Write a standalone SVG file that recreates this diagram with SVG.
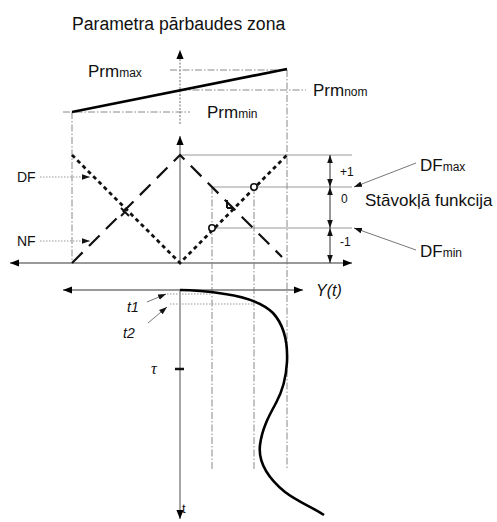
<svg xmlns="http://www.w3.org/2000/svg" width="497" height="522" viewBox="0 0 497 522">
<defs>
<marker id="ah" viewBox="0 0 10 10" refX="10" refY="5" markerWidth="9" markerHeight="9" markerUnits="userSpaceOnUse" orient="auto-start-reverse"><path d="M0,1 L10,5 L0,9 z" fill="#000"/></marker>
<marker id="ahs" viewBox="0 0 10 10" refX="10" refY="5" markerWidth="8" markerHeight="8" markerUnits="userSpaceOnUse" orient="auto-start-reverse"><path d="M0,1.5 L10,5 L0,8.5 z" fill="#111"/></marker>
</defs>
<style>
text{font-family:"Liberation Sans",Arial,sans-serif;fill:#111}
.ax{stroke:#777;stroke-width:1.3;fill:none}
.dd{stroke:#888;stroke-width:1;stroke-dasharray:7 2 1.5 2;fill:none}
.thin{stroke:#999;stroke-width:1;fill:none}
.dot{stroke:#999;stroke-width:1;stroke-dasharray:1.5 1.5;fill:none}
.df{stroke:#111;stroke-width:2.8;stroke-dasharray:4 3.5;fill:none}
.nf{stroke:#111;stroke-width:2.2;stroke-dasharray:15 9;fill:none}
.big{font-size:17px}
.sub{font-size:12px}
.it{font-style:italic}
</style>
<rect width="497" height="522" fill="#fff"/>
<text x="72" y="30" style="font-size:17.6px">Parametra pārbaudes zona</text>

<g id="connectors">
<!-- upper parameter zone -->
<line x1="180" y1="124" x2="180" y2="50" stroke="#888" stroke-width="1.2" stroke-dasharray="2 1.5" marker-end="url(#ah)"/>
<line class="dd" x1="170" y1="70" x2="287" y2="70"/>
<line class="dd" x1="180" y1="90" x2="306" y2="90"/>
<line class="dd" x1="63" y1="112" x2="190" y2="112"/>
<line class="dd" x1="72" y1="112" x2="72" y2="263"/>
<line class="dd" x1="287" y1="70" x2="287" y2="470"/>
<line x1="72" y1="112" x2="287" y2="69" stroke="#000" stroke-width="2.6"/>

<!-- middle state function -->
<line class="ax" x1="180" y1="263" x2="180" y2="136" marker-end="url(#ah)"/>
<line class="ax" x1="10" y1="263" x2="352" y2="263" marker-start="url(#ah)" marker-end="url(#ah)"/>
<line class="thin" x1="180" y1="155" x2="352" y2="155"/>
<line class="thin" x1="212" y1="187" x2="352" y2="187"/>
<line class="thin" x1="212" y1="228" x2="352" y2="228"/>
<line class="dd" x1="212" y1="187" x2="212" y2="470"/>
<line class="dd" x1="254" y1="187" x2="254" y2="470"/>
<polyline class="df" points="72,155 180,263 287,155"/>
<polyline class="nf" points="72,263 180,155 282,257"/>
<line x1="121" y1="208" x2="129" y2="216" stroke="#111" stroke-width="2"/>
<line x1="125" y1="212" x2="121" y2="216" stroke="#111" stroke-width="2"/>
<line x1="227" y1="200" x2="227" y2="208" stroke="#111" stroke-width="2"/>
<line x1="227" y1="208" x2="233" y2="208" stroke="#111" stroke-width="2"/>
<circle cx="212" cy="228" r="3.2" fill="#fff" stroke="#111" stroke-width="1.6"/>
<circle cx="254" cy="187" r="3.2" fill="#fff" stroke="#111" stroke-width="1.6"/>
<line class="dot" x1="40" y1="177" x2="90" y2="177" marker-end="url(#ahs)"/>
<line class="dot" x1="40" y1="241" x2="90" y2="241" marker-end="url(#ahs)"/>
<line x1="330" y1="155" x2="330" y2="187" stroke="#333" stroke-width="1" marker-start="url(#ahs)" marker-end="url(#ahs)"/>
<line x1="330" y1="187" x2="330" y2="228" stroke="#333" stroke-width="1" marker-start="url(#ahs)" marker-end="url(#ahs)"/>
<line x1="330" y1="228" x2="330" y2="263" stroke="#333" stroke-width="1" marker-start="url(#ahs)" marker-end="url(#ahs)"/>
<line x1="416" y1="163" x2="354" y2="187" stroke="#777" stroke-width="1" marker-end="url(#ahs)"/>
<line x1="416" y1="250" x2="354" y2="228" stroke="#777" stroke-width="1" marker-end="url(#ahs)"/>

<!-- lower time section -->
<line class="ax" x1="63" y1="290" x2="303" y2="290" marker-start="url(#ah)" marker-end="url(#ah)"/>
<line class="ax" x1="180" y1="290" x2="180" y2="519" marker-end="url(#ah)"/>
<line class="dot" x1="167" y1="294" x2="212" y2="294"/>
<line class="dot" x1="170" y1="304" x2="254" y2="304"/>
<line x1="147" y1="302" x2="166" y2="294" stroke="#777" stroke-width="1" marker-end="url(#ahs)"/>
<line x1="148" y1="323" x2="167" y2="307" stroke="#777" stroke-width="1" marker-end="url(#ahs)"/>
<line x1="175" y1="369" x2="184" y2="369" stroke="#111" stroke-width="2.5"/>
<path d="M180,290 C200,290 212,292 225,294 C245,297 262,302 273,313 C284,325 288,340 287,362 C286,380 282,392 276,403 C270,414 262,428 260,445 C258,462 268,478 285,492 C298,502 312,507 324,515" stroke="#000" stroke-width="2.6" fill="none"/>
</g>

<g id="prm-max"><text x="88" y="77"><tspan class="big">Prm</tspan><tspan class="sub">max</tspan></text></g>
<g id="prm-nom"><text x="313" y="96"><tspan class="big">Prm</tspan><tspan class="sub">nom</tspan></text></g>
<g id="prm-min"><text x="207" y="118"><tspan class="big">Prm</tspan><tspan class="sub">min</tspan></text></g>
<g id="df-label"><text x="17" y="182" style="font-size:14px">DF</text></g>
<g id="nf-label"><text x="17" y="246" style="font-size:14px">NF</text></g>
<g id="levels">
<text x="340" y="176" style="font-size:12px">+1</text>
<text x="341" y="203" style="font-size:12px">0</text>
<text x="340" y="246" style="font-size:12px">-1</text>
</g>
<g id="df-max"><text x="420" y="171"><tspan class="big">DF</tspan><tspan class="sub">max</tspan></text></g>
<g id="df-min"><text x="420" y="257"><tspan class="big">DF</tspan><tspan class="sub">min</tspan></text></g>
<g id="state-fn"><text x="365" y="206" class="big">Stāvokļā funkcija</text></g>
<g id="yt"><text x="316" y="296" class="it" style="font-size:16px">Y(t)</text></g>
<g id="t1"><text x="127" y="312" class="it" style="font-size:14px">t1</text></g>
<g id="t2"><text x="123" y="338" class="it" style="font-size:14px">t2</text></g>
<g id="tau"><text x="151" y="374" class="it" style="font-size:16px;font-family:'Liberation Serif',serif">τ</text></g>
<g id="t-axis"><text x="182" y="513" style="font-size:13px">t</text></g>
</svg>
